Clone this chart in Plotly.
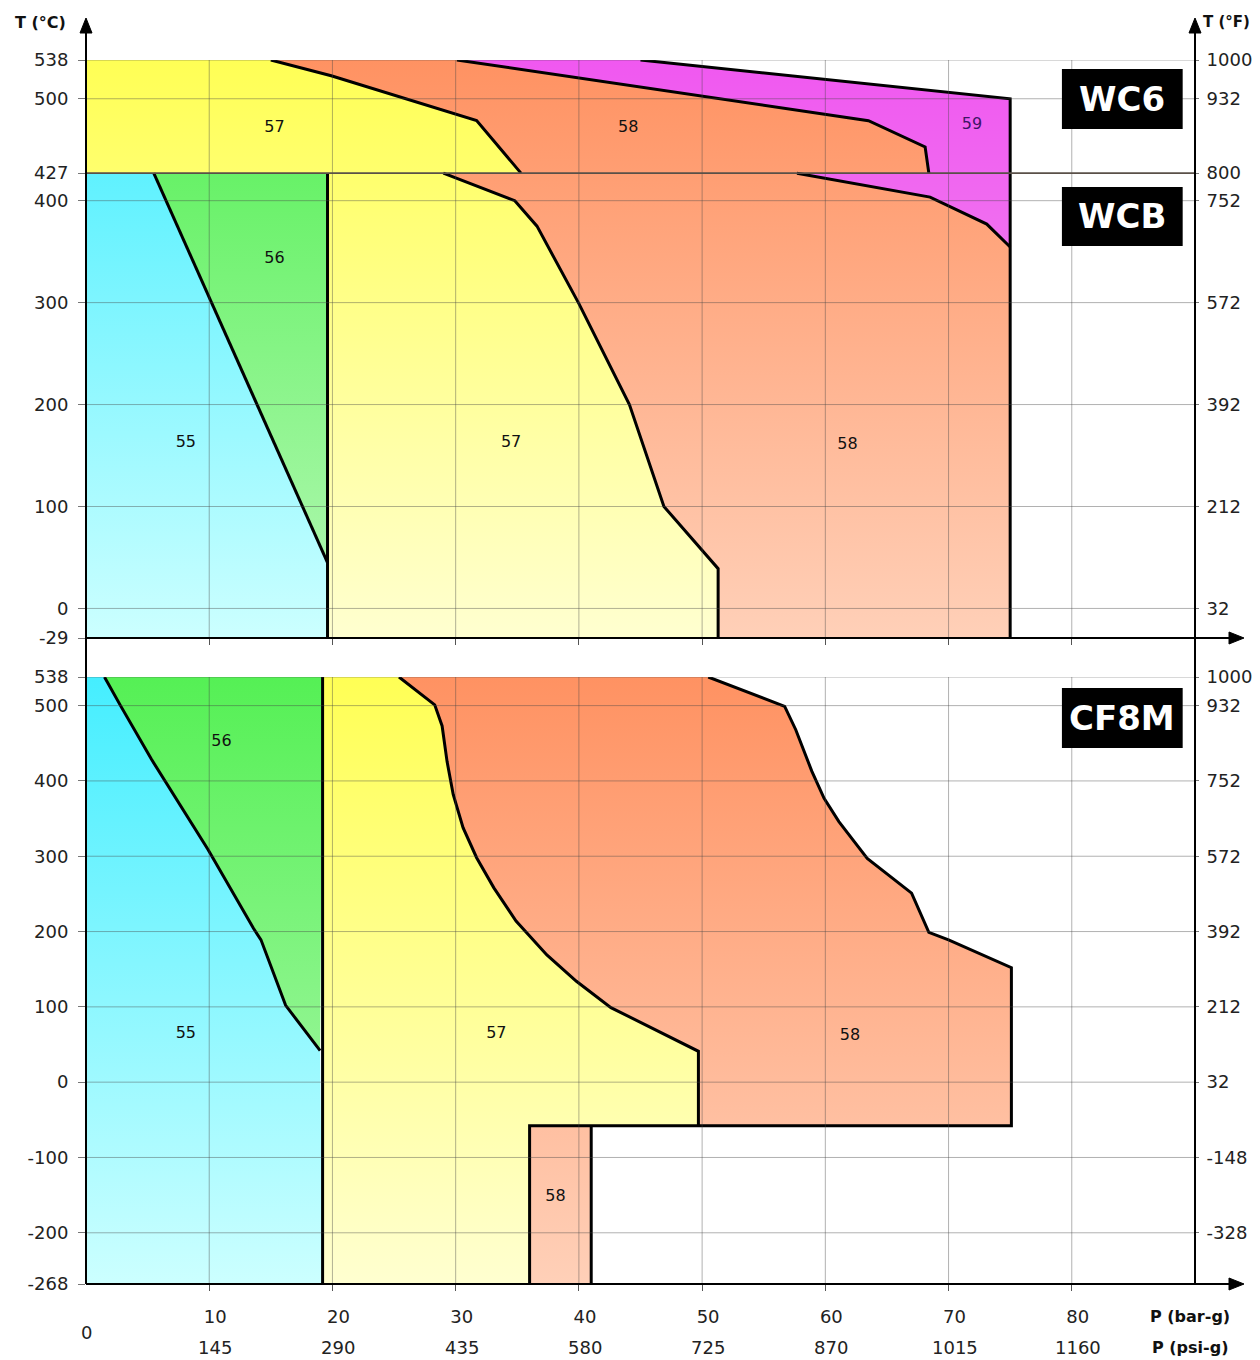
import plotly.graph_objects as go

# ---------------- data ----------------
P_TICKS_BAR = [10, 20, 30, 40, 50, 60, 70, 80]
P_TICKS_PSI = ['145', '290', '435', '580', '725', '870', '1015', '1160']
P_GRID = [10, 20, 30, 40, 50, 60, 70, 80]

TOP_T_TICKS = [538, 500, 427, 400, 300, 200, 100, 0, -29]
TOP_T_GRID = [538, 500, 400, 300, 200, 100, 0]
TOP_F_TICKS = [538, 500, 427, 400, 300, 200, 100, 0]
TOP_F_LABELS = ['1000', '932', '800', '752', '572', '392', '212', '32']
BOT_T_TICKS = [538, 500, 400, 300, 200, 100, 0, -100, -200, -268]
BOT_T_GRID = [538, 500, 400, 300, 200, 100, 0, -100, -200]
BOT_F_TICKS = [538, 500, 400, 300, 200, 100, 0, -100, -200]
BOT_F_LABELS = ['1000', '932', '752', '572', '392', '212', '32', '-148', '-328']

TOP_RANGE = [-29, 538]
WC6_SPLIT = 427
BOT_RANGE = [-268, 538]
P_RANGE = [0, 90]

# WC6 (427..538 degC)
WC6_B57_P = [15.0, 19.9, 31.7, 35.3]
WC6_B57_T = [538, 522.6, 478.5, 427]
WC6_B59_P = [30.1, 63.5, 68.1, 68.4]
WC6_B59_T = [538, 478.5, 452.7, 427]
WC6_MAX_P = [45.0, 75.0, 75.0]
WC6_MAX_T = [538, 500, 427]
# WCB (-29..427 degC)
WCB_B56_P = [5.5, 19.6]
WCB_B56_T = [427, 45]
WCB_B57_P = 19.6
WCB_B58_P = [29.0, 34.8, 36.6, 40.0, 44.1, 46.9, 51.3, 51.3]
WCB_B58_T = [427, 400, 375, 299, 200, 100, 39, -29]
WCB_B59_P = [57.7, 68.5, 73.1, 75.0]
WCB_B59_T = [427, 403.5, 377, 354.6]
WCB_MAX_P = 75.0
# CF8M (-268..538 degC)
CF8M_B56_P = [1.5, 2.8, 5.3, 9.9, 13.6, 14.2, 16.2, 19.0]
CF8M_B56_T = [538, 500, 429, 309, 204, 189, 102, 42]
CF8M_B57_P = 19.2
CF8M_B58_P = [25.4, 28.3, 28.9, 29.3, 29.8, 30.6, 31.7, 33.1, 34.9, 37.4, 39.8, 42.6, 49.7, 49.7]
CF8M_B58_T = [538, 501, 473, 426, 382, 338, 298, 258, 214, 169, 134, 99, 41, -58]
CF8M_MAX_P = [50.5, 56.7, 57.6, 58.9, 59.9, 61.1, 63.4, 67.0, 68.4, 70.0, 75.1, 75.1]
CF8M_MAX_T = [538, 499, 468, 413, 377, 346, 297, 251, 199, 189, 152, -58]
CF8M_LOW58_P = [36.0, 41.0]
CF8M_LOW58_T = [-58, -268]

# zone labels
ZONE_TOP_TEXT = ['57', '58', '59', '56', '55', '57', '58']
ZONE_TOP_P = [15.3, 44.0, 71.9, 15.3, 8.1, 34.5, 61.8]
ZONE_TOP_T = [471, 471, 474, 343, 162, 162, 160]
ZONE_BOT_TEXT = ['56', '55', '57', '58', '58']
ZONE_BOT_P = [11.0, 8.1, 33.3, 62.0, 38.1]
ZONE_BOT_T = [452, 64, 64, 61, -152]

# colour ramps (top colour, bottom colour)
CYAN = ('#45EEFF', '#CCFFFF')
GREEN = ('#55F055', '#B5F8B5')
YELLOW = ('#FFFF55', '#FFFFD0')
ORANGE = ('#FF9262', '#FFD0B8')
MAGENTA = ('#F058F0', '#F0A0F0')

TICK_FONT = dict(family='DejaVu Sans', size=18, color='#222222')
ZONE_FONT = dict(family='DejaVu Sans', size=16, color='#111111')
TITLE_FONT = dict(family='DejaVu Sans', size=16, color='#111111')

# ---------------- figure ----------------
OFF = 8  # page body margin of the rendered html
W, H = 1260, 1360
ML = 86 - OFF
MT = 60 - OFF
MR = W - (1195 - OFF)
MB = H - (1284 - OFF)
PW, PH = W - ML - MR, H - MT - MB
TOP_DOM = [(1284 - 638) / PH, 1.0]
BOT_DOM = [0.0, (1284 - 677) / PH]


def px(x):
    return (x - 86) / PW


def py(y):
    return (1284 - y) / PH


fig = go.Figure()


def region(xs, ys, cols, xa, ya, rng):
    fig.add_trace(go.Scatter(
        x=xs, y=ys, mode='lines', line=dict(width=0, color='rgba(0,0,0,0)'),
        fill='toself', fillcolor=cols[0],
        fillgradient=dict(type='vertical', colorscale=[[0, cols[1]], [1, cols[0]]],
                          start=rng[0], stop=rng[1]),
        xaxis=xa, yaxis=ya, hoverinfo='skip', showlegend=False))


def edge(xs, ys, xa, ya):
    fig.add_trace(go.Scatter(
        x=xs, y=ys, mode='lines', line=dict(color='black', width=3),
        xaxis=xa, yaxis=ya, hoverinfo='skip', showlegend=False))


# WC6
region([0] + WC6_B57_P + [0], [538] + WC6_B57_T + [WC6_SPLIT], YELLOW, 'x', 'y', TOP_RANGE)
region(WC6_B57_P + WC6_B59_P[::-1], WC6_B57_T + WC6_B59_T[::-1], ORANGE, 'x', 'y', TOP_RANGE)
region(WC6_B59_P + WC6_MAX_P[::-1], WC6_B59_T + WC6_MAX_T[::-1], MAGENTA, 'x', 'y', TOP_RANGE)
# WCB
region([0] + WCB_B56_P + [WCB_B57_P, 0], [WC6_SPLIT] + WCB_B56_T + [TOP_RANGE[0]] * 2, CYAN, 'x', 'y', TOP_RANGE)
region(WCB_B56_P + [WCB_B57_P], WCB_B56_T + [WC6_SPLIT], GREEN, 'x', 'y', TOP_RANGE)
region([WCB_B57_P] + WCB_B58_P + [WCB_B57_P], [WC6_SPLIT] + WCB_B58_T + [TOP_RANGE[0]], YELLOW, 'x', 'y', TOP_RANGE)
region(WCB_B58_P + [WCB_MAX_P] + WCB_B59_P[::-1], WCB_B58_T + [TOP_RANGE[0]] + WCB_B59_T[::-1], ORANGE, 'x', 'y', TOP_RANGE)
region(WCB_B59_P + [WCB_MAX_P], WCB_B59_T + [WC6_SPLIT], MAGENTA, 'x', 'y', TOP_RANGE)
# CF8M
region([0] + CF8M_B56_P + [CF8M_B57_P, 0], [538] + CF8M_B56_T + [BOT_RANGE[0]] * 2, CYAN, 'x2', 'y2', BOT_RANGE)
region(CF8M_B56_P + [CF8M_B57_P], CF8M_B56_T + [538], GREEN, 'x2', 'y2', BOT_RANGE)
region([CF8M_B57_P] + CF8M_B58_P + [CF8M_LOW58_P[0], CF8M_LOW58_P[0], CF8M_B57_P],
       [538] + CF8M_B58_T + [CF8M_LOW58_T[0], CF8M_LOW58_T[1], BOT_RANGE[0]], YELLOW, 'x2', 'y2', BOT_RANGE)
region(CF8M_B58_P + CF8M_MAX_P[::-1], CF8M_B58_T + CF8M_MAX_T[::-1], ORANGE, 'x2', 'y2', BOT_RANGE)
region([CF8M_LOW58_P[0], CF8M_LOW58_P[1], CF8M_LOW58_P[1], CF8M_LOW58_P[0]],
       [CF8M_LOW58_T[0], CF8M_LOW58_T[0], CF8M_LOW58_T[1], CF8M_LOW58_T[1]], ORANGE, 'x2', 'y2', BOT_RANGE)

# black boundaries
edge(WC6_B57_P, WC6_B57_T, 'x', 'y')
edge(WC6_B59_P, WC6_B59_T, 'x', 'y')
edge(WC6_MAX_P + [WCB_MAX_P], WC6_MAX_T + [TOP_RANGE[0]], 'x', 'y')
edge(WCB_B56_P, WCB_B56_T, 'x', 'y')
edge([WCB_B57_P, WCB_B57_P], [WC6_SPLIT, TOP_RANGE[0]], 'x', 'y')
edge(WCB_B58_P, WCB_B58_T, 'x', 'y')
edge(WCB_B59_P, WCB_B59_T, 'x', 'y')
edge(CF8M_B56_P, CF8M_B56_T, 'x2', 'y2')
edge([CF8M_B57_P, CF8M_B57_P], [538, BOT_RANGE[0]], 'x2', 'y2')
edge(CF8M_B58_P, CF8M_B58_T, 'x2', 'y2')
edge(CF8M_MAX_P + [CF8M_LOW58_P[0], CF8M_LOW58_P[0]], CF8M_MAX_T + [CF8M_LOW58_T[0], CF8M_LOW58_T[1]], 'x2', 'y2')
edge([CF8M_LOW58_P[1], CF8M_LOW58_P[1]], CF8M_LOW58_T, 'x2', 'y2')

# zone labels
fig.add_trace(go.Scatter(x=ZONE_TOP_P, y=ZONE_TOP_T, mode='text', text=ZONE_TOP_TEXT,
                         textfont=dict(family=ZONE_FONT['family'], size=ZONE_FONT['size'],
                                       color=['#111', '#111', '#3d1466', '#111', '#111', '#111', '#111']),
                         xaxis='x', yaxis='y', hoverinfo='skip', showlegend=False))
fig.add_trace(go.Scatter(x=ZONE_BOT_P, y=ZONE_BOT_T, mode='text', text=ZONE_BOT_TEXT,
                         textfont=ZONE_FONT, xaxis='x2', yaxis='y2', hoverinfo='skip', showlegend=False))
# dummy traces for right-hand axes
fig.add_trace(go.Scatter(x=[None], y=[None], xaxis='x', yaxis='y3', showlegend=False))
fig.add_trace(go.Scatter(x=[None], y=[None], xaxis='x2', yaxis='y4', showlegend=False))

GRID = 'rgba(70,70,70,0.42)'
shapes = []
for xa, ya, tg in (('x', 'y', TOP_T_GRID), ('x2', 'y2', BOT_T_GRID)):
    for p in P_GRID:
        shapes.append(dict(type='line', xref=xa, yref=ya + ' domain', x0=p, x1=p, y0=0, y1=1,
                           line=dict(color=GRID, width=1), layer='above'))
    for t in tg:
        shapes.append(dict(type='line', xref=xa + ' domain', yref=ya, x0=0, x1=1, y0=t, y1=t,
                           line=dict(color=GRID, width=1), layer='above'))
shapes.append(dict(type='line', xref='x domain', yref='y', x0=0, x1=1, y0=WC6_SPLIT, y1=WC6_SPLIT,
                   line=dict(color='#5a5048', width=1.6), layer='above'))

# axis lines + arrows (reference pixel positions converted to paper)
AX = dict(color='black', width=2)
shapes += [
    dict(type='line', xref='paper', yref='paper', x0=px(86), x1=px(86), y0=py(1284), y1=py(26), line=AX),
    dict(type='line', xref='paper', yref='paper', x0=px(1195), x1=px(1195), y0=py(1284), y1=py(26), line=AX),
    dict(type='line', xref='paper', yref='paper', x0=px(86), x1=px(1234), y0=py(638), y1=py(638), line=AX),
    dict(type='line', xref='paper', yref='paper', x0=px(86), x1=px(1234), y0=py(1284), y1=py(1284), line=AX),
]


def tri(p1, p2, p3):
    return dict(type='path', xref='paper', yref='paper',
                path=f'M {px(p1[0])},{py(p1[1])} L {px(p2[0])},{py(p2[1])} L {px(p3[0])},{py(p3[1])} Z',
                fillcolor='black', line=dict(color='black', width=1))


shapes += [
    tri((86, 18), (80, 33), (92, 33)),
    tri((1195, 18), (1189, 33), (1201, 33)),
    tri((1244, 638), (1229, 632), (1229, 644)),
    tri((1244, 1284), (1229, 1278), (1229, 1290)),
]

# material boxes
BOXES = [('WC6', 'x', 'y', 470.3, 529.2), ('WCB', 'x', 'y', 355.6, 413.4), ('CF8M', 'x2', 'y2', 443.7, 523.4)]
annotations = []
for name, xa, ya, y0, y1 in BOXES:
    shapes.append(dict(type='rect', xref=xa, yref=ya, x0=79.2, x1=89.0, y0=y0, y1=y1,
                       fillcolor='black', line=dict(width=0), layer='above'))
    annotations.append(dict(xref=xa, yref=ya, x=84.1, y=(y0 + y1) / 2, text=f'<b>{name}</b>', showarrow=False,
                            xanchor='center', yanchor='middle',
                            font=dict(family='DejaVu Sans', size=34, color='white')))

# psi row, zero and axis titles


def note(x, y, text, font):
    return dict(xref='paper', yref='paper', x=px(x), y=py(y), text=text, showarrow=False,
                xanchor='center', yanchor='middle', font=font)


for p, s in zip(P_TICKS_BAR, P_TICKS_PSI):
    annotations.append(dict(xref='x2', yref='paper', x=p, y=py(1347), text=s, showarrow=False,
                            xanchor='center', yanchor='middle', xshift=6, font=TICK_FONT))
annotations += [
    note(86, 1332, '0', TICK_FONT),
    note(1190, 1316, '<b>P (bar-g)</b>', TITLE_FONT),
    note(1190, 1347, '<b>P (psi-g)</b>', TITLE_FONT),
    note(40, 22, '<b>T (°C)</b>', TITLE_FONT),
    note(1226, 22, '<b>T (°F)</b>', dict(family='DejaVu Sans', size=15, color='#111111')),
]

XCOMMON = dict(range=P_RANGE, domain=[0, 1], showgrid=False, zeroline=False, showline=False,
               tickvals=P_GRID, ticks='outside', ticklen=6, tickcolor='#555', tickfont=TICK_FONT)
YCOMMON = dict(showgrid=False, zeroline=False, showline=False, ticks='outside', ticklen=7,
               tickcolor='#777', tickfont=TICK_FONT)

fig.update_layout(
    width=W, height=H, margin=dict(l=ML, r=MR, t=MT, b=MB, autoexpand=False),
    plot_bgcolor='white', paper_bgcolor='white', showlegend=False,
    xaxis=dict(anchor='y', showticklabels=False, **XCOMMON),
    xaxis2=dict(anchor='y2', ticktext=[str(v) for v in P_TICKS_BAR], ticklabelstandoff=10,
                ticklabelshift=6, **XCOMMON),
    yaxis=dict(domain=TOP_DOM, anchor='x', range=TOP_RANGE, tickvals=TOP_T_TICKS,
               ticktext=[str(v) for v in TOP_T_TICKS], ticklabelstandoff=6, **YCOMMON),
    yaxis2=dict(domain=BOT_DOM, anchor='x2', range=BOT_RANGE, tickvals=BOT_T_TICKS,
                ticktext=[str(v) for v in BOT_T_TICKS], ticklabelstandoff=6, **YCOMMON),
    yaxis3=dict(overlaying='y', side='right', anchor='x', range=TOP_RANGE, tickvals=TOP_F_TICKS,
                ticktext=TOP_F_LABELS, showgrid=False, zeroline=False, showline=False,
                ticks='outside', ticklen=3, tickcolor='#777', tickfont=TICK_FONT, ticklabelstandoff=4),
    yaxis4=dict(overlaying='y2', side='right', anchor='x2', range=BOT_RANGE, tickvals=BOT_F_TICKS,
                ticktext=BOT_F_LABELS, showgrid=False, zeroline=False, showline=False,
                ticks='outside', ticklen=3, tickcolor='#777', tickfont=TICK_FONT, ticklabelstandoff=4),
    shapes=shapes, annotations=annotations,
)

fig.write_html('out.html')
